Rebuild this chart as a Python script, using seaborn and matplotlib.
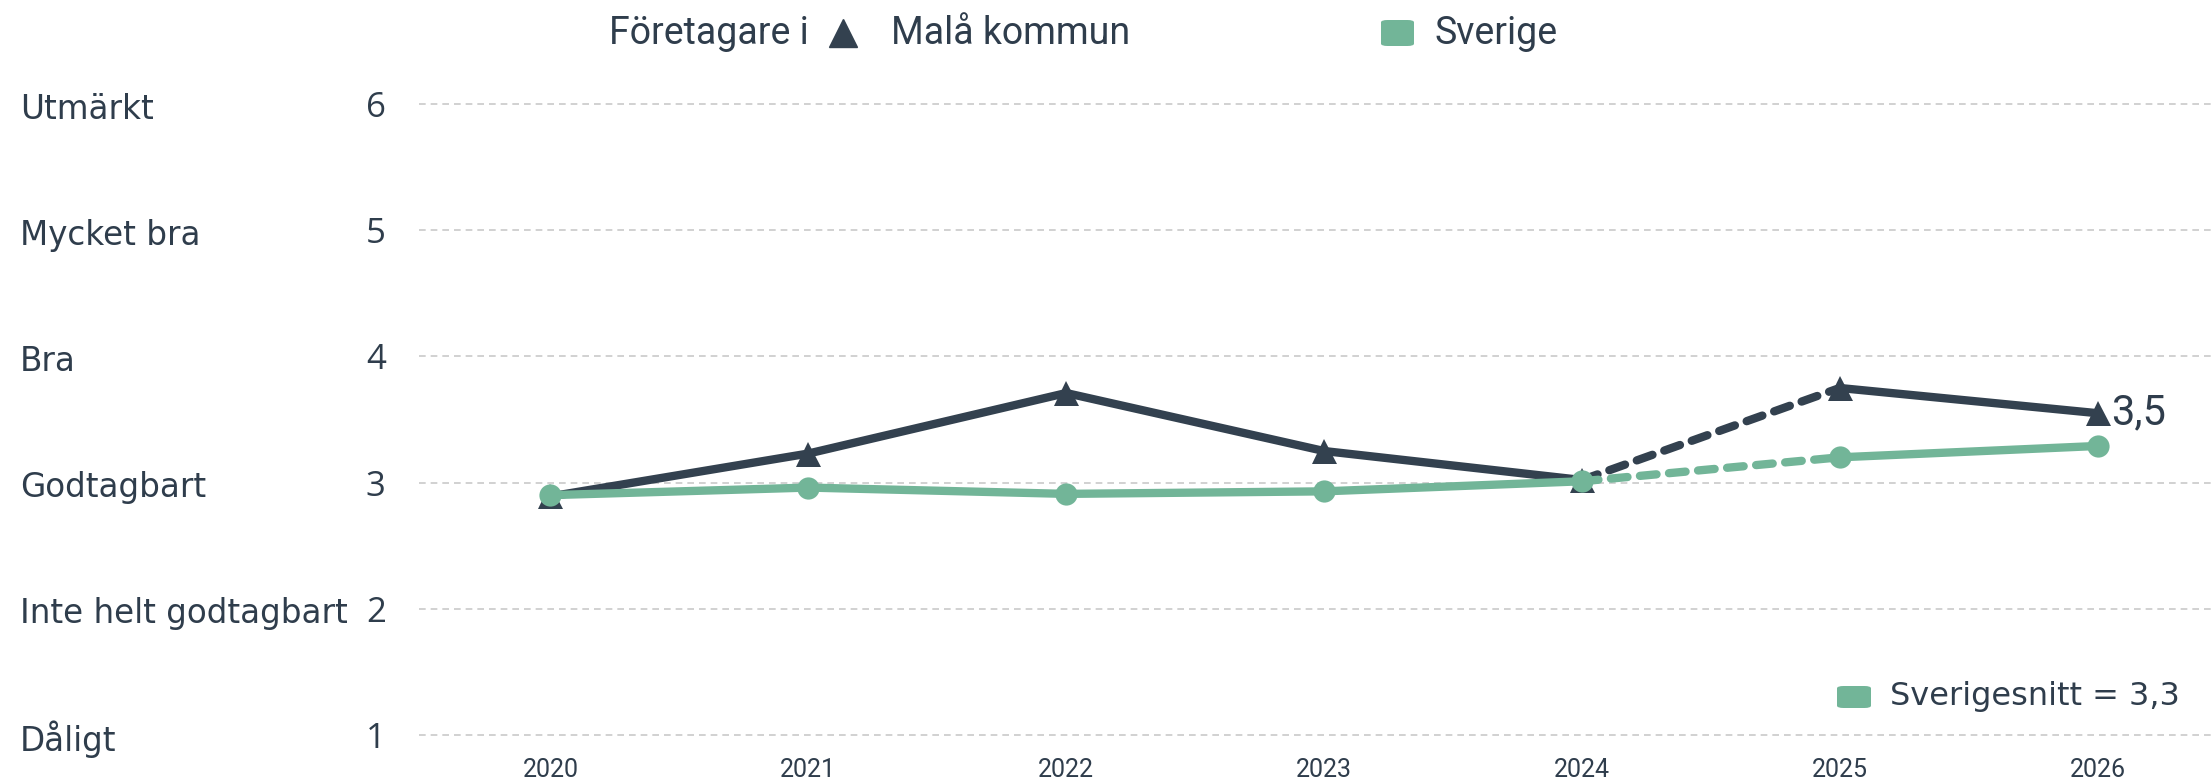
import matplotlib
matplotlib.use("Agg")
import matplotlib.pyplot as plt
import seaborn as sns
import pandas as pd
from matplotlib.patches import FancyBboxPatch
from matplotlib.lines import Line2D

years = [2020, 2021, 2022, 2023, 2024, 2025, 2026]
mala = [2.89, 3.23, 3.71, 3.25, 3.02, 3.75, 3.55]
sverige = [2.90, 2.96, 2.91, 2.93, 3.01, 3.20, 3.29]
y_ticks = [1, 2, 3, 4, 5, 6]
y_names = ["Dåligt", "Inte helt godtagbart", "Godtagbart", "Bra", "Mycket bra", "Utmärkt"]
legend_prefix = "Företagare i"
series_names = ["Malå kommun", "Sverige"]
end_label = "3,5"
avg_label = "Sverigesnitt = 3,3"

DARK = "#33414f"
GREEN = "#72b598"
TEXT = "#2f3d4c"

sns.set_theme(style="white")
plt.rcParams["font.family"] = ["DejaVu Sans"]

fig = plt.figure(figsize=(22.11, 7.78), dpi=100)
ax = fig.add_axes([0.1895, 0.0476, 0.8105, 0.8264])

df = pd.DataFrame({"year": years * 2,
                   "value": mala + sverige,
                   "serie": [series_names[0]] * 7 + [series_names[1]] * 7})

def seg(name, y0, y1):
    return df[(df.serie == name) & (df.year >= y0) & (df.year <= y1)]

styles = {series_names[0]: dict(color=DARK, marker="^", ms=18),
          series_names[1]: dict(color=GREEN, marker="o", ms=16)}

for name in series_names:
    st = styles[name]
    sns.lineplot(data=seg(name, 2024, 2025), x="year", y="value", ax=ax,
                 color=st["color"], lw=6, linestyle=(0, (2.0, 1.5)),
                 dash_capstyle="round", legend=False, zorder=2)
for name in series_names:
    st = styles[name]
    for (a, b) in [(2020, 2024), (2025, 2026)]:
        sns.lineplot(data=seg(name, a, b), x="year", y="value", ax=ax,
                     color=st["color"], lw=6, marker=st["marker"], markersize=st["ms"],
                     markeredgewidth=0, legend=False, zorder=3,
                     solid_capstyle="round")

ax.set_xlim(2019.49, 2026.44)
ax.set_ylim(0.95, 6.05)
ax.set_yticks(y_ticks)
ax.set_yticklabels([str(v) for v in y_ticks], fontsize=25, color=TEXT,
                   family=["Open Sans", "DejaVu Sans"])
ax.set_xticks(years)
ax.set_xticklabels([str(y) for y in years], fontsize=18, color=TEXT,
                   family=["Roboto", "DejaVu Sans"])
ax.tick_params(axis="y", pad=24, length=0)
ax.tick_params(axis="x", pad=12, length=0)
for lab in ax.get_yticklabels():
    lab.set_horizontalalignment("right")
ax.grid(axis="y", color="#c9c9c9", linestyle=(0, (4, 3)), lw=1.2)
ax.grid(axis="x", visible=False)
for s in ax.spines.values():
    s.set_visible(False)
ax.set_xlabel("")
ax.set_ylabel("")

# category names
for v, nm in zip(y_ticks, y_names):
    yd = ax.transData.transform((2020, v))[1] - 5
    yf = fig.transFigure.inverted().transform((0, yd))[1]
    fig.text(20 / 2211, yf, nm, ha="left", va="center", fontsize=23.5, color=TEXT)

# end label
ax.annotate(end_label, xy=(years[-1], mala[-1]), xytext=(10, 0), textcoords="offset points",
            ha="left", va="center", fontsize=30, color=TEXT,
            family=["Roboto", "DejaVu Sans"])

LEG = ["Roboto", "DejaVu Sans"]
# top legend
ytop = 1 - 33 / 778
fig.text(609 / 2211, ytop, legend_prefix, ha="left", va="center", fontsize=27, color=TEXT,
         family=LEG)
fig.add_artist(Line2D([843 / 2211], [ytop], marker="^", ms=20, color=DARK, lw=0,
                      transform=fig.transFigure))
fig.text(891 / 2211, ytop, series_names[0], ha="left", va="center", fontsize=27, color=TEXT,
         family=LEG)
fig.add_artist(FancyBboxPatch((1381 / 2211, ytop - 13 / 778), 33 / 2211, 26 / 778,
                              boxstyle="round,pad=0,rounding_size=0.003", fc=GREEN, ec="none",
                              transform=fig.transFigure))
fig.text(1435 / 2211, ytop, series_names[1], ha="left", va="center", fontsize=27, color=TEXT,
         family=LEG)

# bottom right legend
yb = 1 - 697 / 778
fig.add_artist(FancyBboxPatch((1837 / 2211, yb - 11 / 778), 34 / 2211, 22 / 778,
                              boxstyle="round,pad=0,rounding_size=0.003", fc=GREEN, ec="none",
                              transform=fig.transFigure))
fig.text(1890 / 2211, yb, avg_label, ha="left", va="center", fontsize=23, color=TEXT,
         family=["DejaVu Sans"])

fig.savefig("out.png", dpi=100, facecolor="white")
